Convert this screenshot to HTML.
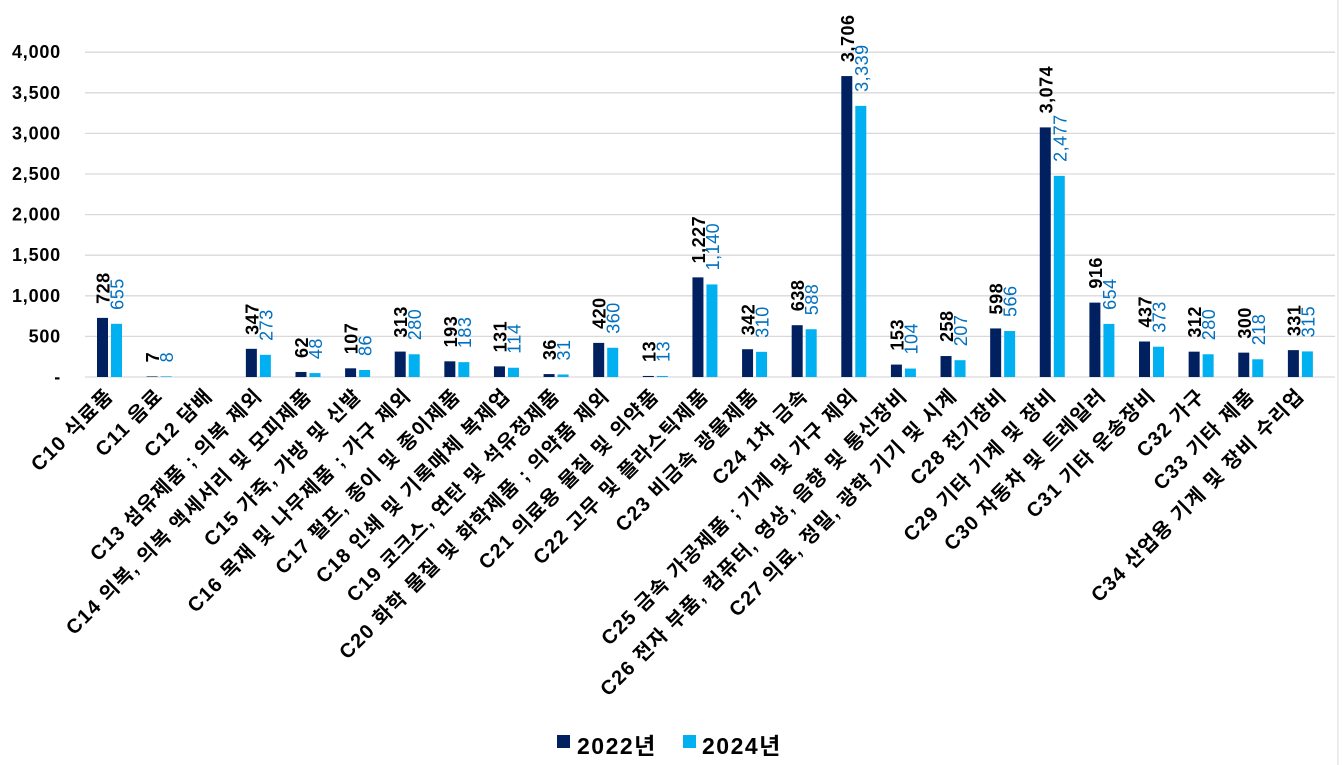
<!DOCTYPE html>
<html><head><meta charset="utf-8"><style>
html,body{margin:0;padding:0;background:#fff;}
svg{display:block;font-family:"Liberation Sans","Noto Sans CJK KR",sans-serif;}
</style></head><body>
<svg id="c" width="1343" height="765" viewBox="0 0 1343 765" xmlns="http://www.w3.org/2000/svg">
<rect x="0" y="0" width="1343" height="765" fill="#fff"/>
<line x1="1338" y1="0" x2="1338" y2="765" stroke="#d9d9d9" stroke-width="1"/>
<g id="g"></g>
<rect x="557" y="735" width="13" height="13" fill="#002060"/>
<text x="577" y="754" font-size="23" font-weight="bold" fill="#000" letter-spacing="1.5">2022년</text>
<rect x="683" y="735" width="13" height="13" fill="#00B0F0"/>
<text x="702" y="754" font-size="23" font-weight="bold" fill="#000" letter-spacing="1.5">2024년</text>
</svg>
<script>
var cats=["C10 식료품","C11 음료","C12 담배","C13 섬유제품 ; 의복 제외","C14 의복, 의복 액세서리 및 모피제품","C15 가죽, 가방 및 신발","C16 목재 및 나무제품 ; 가구 제외","C17 펄프, 종이 및 종이제품","C18 인쇄 및 기록매체 복제업","C19 코크스, 연탄 및 석유정제품","C20 화학 물질 및 화학제품 ; 의약품 제외","C21 의료용 물질 및 의약품","C22 고무 및 플라스틱제품","C23 비금속 광물제품","C24 1차 금속","C25 금속 가공제품 ; 기계 및 가구 제외","C26 전자 부품, 컴퓨터, 영상, 음향 및 통신장비","C27 의료, 정밀, 광학 기기 및 시계","C28 전기장비","C29 기타 기계 및 장비","C30 자동차 및 트레일러","C31 기타 운송장비","C32 가구","C33 기타 제품","C34 산업용 기계 및 장비 수리업"];
var a=[728,7,null,347,62,107,313,193,131,36,420,13,1227,342,638,3706,153,258,598,3074,916,437,312,300,331];
var b=[655,8,null,273,48,86,280,183,114,31,360,13,1140,310,588,3339,104,207,566,2477,654,373,280,218,315];
function f(v){return v.toLocaleString('en-US');}
var z=377,k=40.6/500,s='';
for(var i=0;i<=8;i++){var y=z-i*500*k;
 s+='<line x1="85" x2="1335" y1="'+y+'" y2="'+y+'" stroke="#d9d9d9" stroke-width="1.3"/>';
 s+='<text x="61" y="'+(y+6)+'" text-anchor="end" font-size="18" font-weight="bold" letter-spacing="0.8">'+(i==0?'-':f(i*500))+'</text>';}
for(var i=0;i<25;i++){var c=109.5+i*49.62;
 if(a[i]!=null){var h=a[i]*k;
  s+='<rect x="'+(c-12.5)+'" y="'+(z-h)+'" width="11" height="'+h+'" fill="#002060"/>';
  s+='<text transform="translate('+(c)+','+(z-h-14)+') rotate(-90)" font-size="18" font-weight="bold" fill="#000" letter-spacing="0.5">'+f(a[i])+'</text>';
  var h2=b[i]*k;
  s+='<rect x="'+(c+1.5)+'" y="'+(z-h2)+'" width="11" height="'+h2+'" fill="#00B0F0"/>';
  s+='<text transform="translate('+(c+14)+','+(z-h2-14)+') rotate(-90)" font-size="18" fill="#0070C0" letter-spacing="0.5">'+f(b[i])+'</text>';}
 s+='<text transform="translate('+(c+5)+',397) rotate(-45)" text-anchor="end" font-size="20" font-weight="bold" fill="#000" letter-spacing="1.3">'+cats[i]+'</text>';}
document.getElementById('g').innerHTML=s;
</script>
</body></html>
